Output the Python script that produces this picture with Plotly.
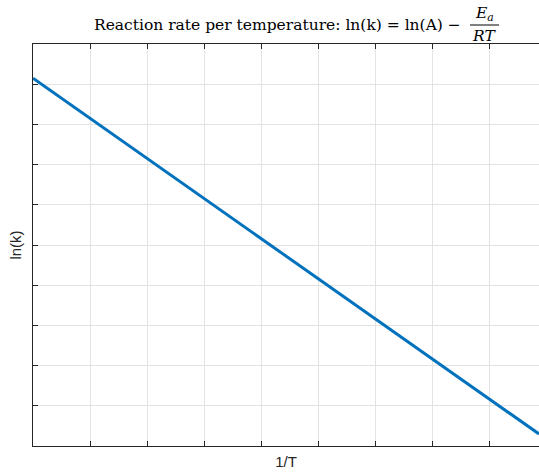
import plotly.graph_objects as go

# Data (arbitrary units)
inv_T = [0.0, 8.877]
ln_k = [9.15, 0.30]

x_range = [0, 8.877]
y_range = [0, 10]

fig = go.Figure()
fig.add_trace(go.Scatter(x=inv_T, y=ln_k, mode="lines",
                         line=dict(color="#0072BD", width=3), showlegend=False,
                         hoverinfo="skip"))

axis_common = dict(showticklabels=False, ticks="inside", ticklen=5, tickwidth=1,
                   tickcolor="#262626", showline=True, linecolor="#262626", linewidth=1,
                   showgrid=True, gridcolor="#e3e3e3", gridwidth=1, zeroline=False,
                   dtick=1, tick0=0)

fig.update_xaxes(range=x_range, mirror="ticks",
                 title=dict(text="1/T", font=dict(family="Liberation Sans, Arial", size=15, color="#262626"), standoff=10),
                 **axis_common)
fig.update_yaxes(range=y_range, mirror=False,
                 title=dict(text="ln(k)", font=dict(family="Liberation Sans, Arial", size=15, color="#262626"), standoff=6),
                 **axis_common)

serif = dict(family="DejaVu Serif, serif", size=15.5, color="#000000")

def px_x(p):
    return (p - 33) / 506.0

def px_y(p):
    return (446 - p) / 402.0

fig.add_annotation(text="Reaction rate per temperature: ln(k) = ln(A) −",
                   xref="paper", yref="paper", x=px_x(463), y=px_y(25),
                   xanchor="right", yanchor="middle", showarrow=False, font=serif)
fig.add_annotation(text="<i>E</i><sub><i>a</i></sub>",
                   xref="paper", yref="paper", x=px_x(484), y=px_y(14),
                   xanchor="center", yanchor="middle", showarrow=False, font=serif)
fig.add_annotation(text="<i>RT</i>",
                   xref="paper", yref="paper", x=px_x(484), y=px_y(36),
                   xanchor="center", yanchor="middle", showarrow=False, font=serif)
fig.add_shape(type="line", xref="paper", yref="paper",
              x0=px_x(470), x1=px_x(499), y0=px_y(25), y1=px_y(25),
              line=dict(color="#000000", width=1))

fig.update_layout(width=539, height=473, margin=dict(l=33, r=0, t=44, b=27),
                  paper_bgcolor="white", plot_bgcolor="white")

fig.write_html("out.html")
